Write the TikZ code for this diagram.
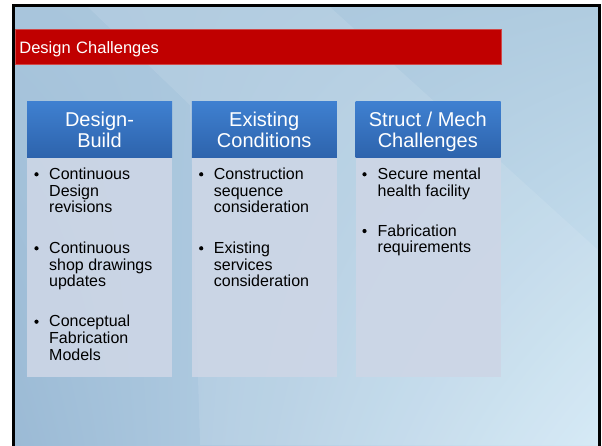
\documentclass[tikz,border=0pt]{standalone}
\usepackage{fontspec}
\setmainfont{Liberation Sans}
\usetikzlibrary{positioning,shadings}

\definecolor{barred}{HTML}{C00000}
\definecolor{baredge}{HTML}{D04848}
\definecolor{headtop}{HTML}{3F80D0}
\definecolor{headbot}{HTML}{2D63AC}
\definecolor{bodyfill}{HTML}{CDD6E6}
\definecolor{bgul}{HTML}{A8C5DC}
\definecolor{bgur}{HTML}{B0CCE0}
\definecolor{bgll}{HTML}{9BBAD5}
\definecolor{bglr}{HTML}{D2E8F5}

\begin{document}
\begin{tikzpicture}
[
	              x = 1pt, y = -1pt,
	titlebar/.style = { fill=barred, draw=baredge, line width=0.8pt, text=white,
	                    anchor=north west, inner xsep=4pt,
	                    minimum width=485.7pt, minimum height=35pt, text width=477.7pt,
	                    text height=12pt, text depth=0pt, align=left,
	                    font=\fontsize{16.5}{18}\selectfont },
	    head/.style = { anchor=north west, inner sep=0pt, minimum width=145pt,
	                    minimum height=56pt, top color=headtop, bottom color=headbot },
	headtext/.style = { anchor=north, inner sep=0pt, text=white, align=center,
	                    font=\fontsize{20}{20.7}\selectfont },
	    body/.style = { anchor=north west, inner sep=0pt, minimum width=145pt,
	                    minimum height=219pt, fill=bodyfill, fill opacity=0.9 },
	    item/.style = { anchor=north west, inner sep=0pt, align=left,
	                    font=\fontsize{16}{16.7}\selectfont },
	     dot/.style = { circle, fill=black, inner sep=0pt, minimum size=4.2pt }
]
	% slide background
	\useasboundingbox (0,0) rectangle (602,445);
	\fill [white] (0,0) rectangle (602,445);
	\shade [upper left=bgul, upper right=bgur, lower left=bgll, lower right=bglr]
		(15,7) rectangle (598,445);
	\fill [white, opacity=0.1] (88,7) -- (330,7) -- (598,250) -- (598,445)
		-- (200,445) -- (190,105) -- cycle;
	\draw [line width=3pt] (13.5,446) -- (13.5,5.5) -- (599.5,5.5) -- (599.5,446);

	% title
	\node (bar) at (15,29.3) [titlebar] {Design Challenges};

	% column one
	\node (h1) at (27,101.7)  [head] {};
	\node (b1) at (27,157.7)  [body] {};
	\node (t1) at (99.5,112.2) [headtext] {Design-\\Build};
	\node (d11) at (36.5,174.3) [dot] {};
	\node (i11) at (49,167.7)   [item] {Continuous\\Design\\revisions};
	\node (d12) at (36.5,248.3) [dot] {};
	\node (i12) at (49,241.7)   [item] {Continuous\\shop drawings\\updates};
	\node (d13) at (36.5,321.7) [dot] {};
	\node (i13) at (49,315.1)   [item] {Conceptual\\Fabrication\\Models};

	% column two
	\node (h2) at (191.7,101.7) [head] {};
	\node (b2) at (191.7,157.7) [body] {};
	\node (t2) at (264.2,112.2) [headtext] {Existing\\Conditions};
	\node (d21) at (201.2,174.3) [dot] {};
	\node (i21) at (213.7,167.7) [item] {Construction\\sequence\\consideration};
	\node (d22) at (201.2,248.3) [dot] {};
	\node (i22) at (213.7,241.7) [item] {Existing\\services\\consideration};

	% column three
	\node (h3) at (355.3,101.7) [head] {};
	\node (b3) at (355.3,157.7) [body] {};
	\node (t3) at (427.8,112.2) [headtext] {Struct / Mech\\Challenges};
	\node (d31) at (364.5,174.3) [dot] {};
	\node (i31) at (377.5,167.7) [item] {Secure mental\\health facility};
	\node (d32) at (364.5,231)   [dot] {};
	\node (i32) at (377.5,224.4) [item] {Fabrication\\requirements};

\end{tikzpicture}
\end{document}
